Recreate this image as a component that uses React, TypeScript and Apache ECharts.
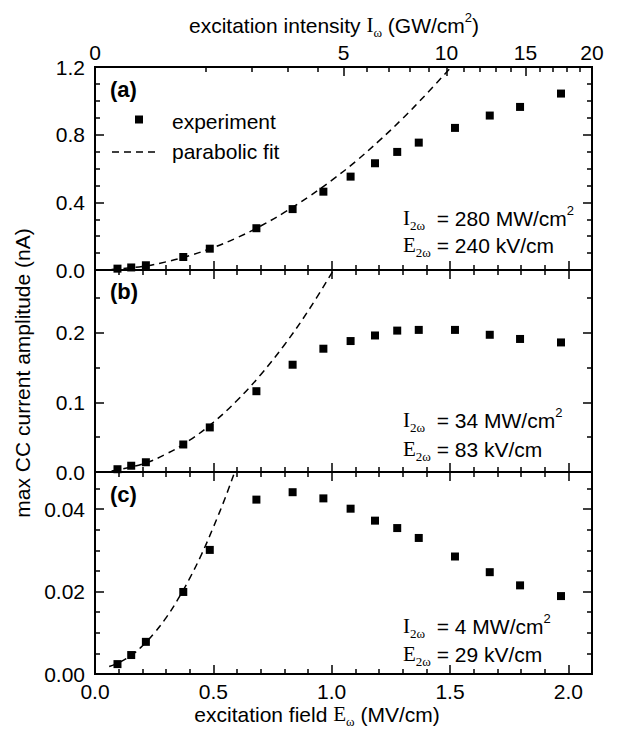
import React, { useEffect, useRef } from "react";
import * as echarts from "echarts";

// measured points: excitation field E_ω (MV/cm)
const fieldE = [0.095, 0.153, 0.215, 0.373, 0.485, 0.682, 0.835, 0.965, 1.08, 1.183, 1.277, 1.368, 1.521, 1.668, 1.796, 1.969];
// max CC current amplitude (nA) for panels (a), (b), (c)
const currentA = [0.008, 0.015, 0.028, 0.077, 0.126, 0.247, 0.36, 0.463, 0.552, 0.631, 0.698, 0.753, 0.84, 0.913, 0.964, 1.043];
const currentB = [0.004, 0.009, 0.014, 0.0395, 0.064, 0.116, 0.154, 0.177, 0.188, 0.196, 0.203, 0.204, 0.204, 0.197, 0.191, 0.186];
const currentC = [0.0024, 0.0046, 0.0078, 0.0199, 0.0301, 0.0423, 0.0441, 0.0426, 0.0401, 0.0372, 0.0354, 0.033, 0.0285, 0.0247, 0.0215, 0.0189];

// parabolic fit curves
const fitFieldA = [0.07, 0.2, 0.3, 0.4, 0.5, 0.6, 0.7, 0.8, 0.9, 1.0, 1.1, 1.2, 1.3, 1.4, 1.505];
const fitValueA = [0.003, 0.021, 0.048, 0.085, 0.133, 0.191, 0.26, 0.34, 0.43, 0.53, 0.64, 0.763, 0.896, 1.04, 1.2];
const fitFieldB = [0.07, 0.2, 0.3, 0.4, 0.5, 0.6, 0.7, 0.8, 0.9, 1.008];
const fitValueB = [0.0014, 0.0114, 0.0257, 0.0456, 0.0713, 0.1026, 0.1397, 0.1824, 0.2309, 0.29];
const fitFieldC = [0.06, 0.1, 0.15, 0.2, 0.25, 0.3, 0.35, 0.4, 0.45, 0.5, 0.55, 0.59];
const fitValueC = [0.0018, 0.0027, 0.0044, 0.0068, 0.0099, 0.0136, 0.0181, 0.0232, 0.029, 0.0356, 0.0427, 0.049];

// ticks
const fieldMajor = [0, 0.5, 1.0, 1.5, 2.0];
const fieldMinor = [0.1, 0.2, 0.3, 0.4, 0.6, 0.7, 0.8, 0.9, 1.1, 1.2, 1.3, 1.4, 1.6, 1.7, 1.8, 1.9];
const intensityLabels = [0, 5, 10, 15, 20];
const intensityMajor = [5, 10, 15];
const intensityMinor = [1, 2, 3, 4, 6, 7, 8, 9, 11, 12, 13, 14, 16, 17, 18, 19];
const yMajorA = [0, 0.4, 0.8, 1.2];
const yMinorA = [0.1, 0.2, 0.3, 0.5, 0.6, 0.7, 0.9, 1.0, 1.1];
const yMajorB = [0, 0.1, 0.2];
const yMinorB = [0.05, 0.15, 0.25];
const yMajorC = [0, 0.02, 0.04];
const yMinorC = [0.005, 0.01, 0.015, 0.025, 0.03, 0.035, 0.045];

const FIELD_MAX = 2.1;
const INTENSITY_AT_MAX = 20; // GW/cm² at E = 2.1 MV/cm (I ∝ E²)
const K = INTENSITY_AT_MAX / (FIELD_MAX * FIELD_MAX);

const SANS = "'Liberation Sans', Arial, sans-serif";
const SERIF = "'Liberation Serif', 'Times New Roman', serif";
const BLACK = "#000";

const intensityToField = (I: number) => Math.min(FIELD_MAX, Math.sqrt(I / K));

function axis(
  gridIndex: number,
  position: string,
  min: number,
  max: number,
  ticks: number[],
  len: number,
  labelValues?: number[],
  fmt?: (v: number) => string,
  margin: number = 7
) {
  return {
    type: "value",
    gridIndex,
    position,
    min,
    max,
    axisLine: { show: true, onZero: false, lineStyle: { color: BLACK, width: 2 } },
    axisTick: {
      show: true,
      inside: true,
      length: len,
      customValues: ticks,
      lineStyle: { color: BLACK, width: 1.5 },
    },
    minorTick: { show: false },
    axisLabel: labelValues
      ? {
          show: true,
          customValues: labelValues,
          formatter: fmt,
          color: BLACK,
          fontSize: 21,
          fontFamily: SANS,
          margin,
        }
      : { show: false },
    splitLine: { show: false },
  };
}

const MAJ = 9;
const MIN = 5;

const panels = [
  { yMax: 1.2, yMajor: yMajorA, yMinor: yMinorA, dec: 1, pts: currentA, fx: fitFieldA, fy: fitValueA },
  { yMax: 0.29, yMajor: yMajorB, yMinor: yMinorB, dec: 1, pts: currentB, fx: fitFieldB, fy: fitValueB },
  { yMax: 0.049, yMajor: yMajorC, yMinor: yMinorC, dec: 2, pts: currentC, fx: fitFieldC, fy: fitValueC },
];

const annotations = [
  { I: "  = 280 MW/cm", E: " = 240 kV/cm" },
  { I: "  = 34 MW/cm", E: " = 83 kV/cm" },
  { I: "  = 4 MW/cm", E: " = 29 kV/cm" },
];

function buildOption() {
  const gridTops = [67, 270, 472];
  const gridHeights = [203, 202, 202];
  const grid = gridTops.map((top, i) => ({
    left: 95,
    right: 40,
    top,
    height: gridHeights[i],
    outerBoundsMode: "none",
    containLabel: false,
  }));

  const fmtField = (v: number) => v.toFixed(1);
  const fmtIntensity = (v: number) => String(Math.round(K * v * v));

  const xAxis: any[] = [];
  const yAxis: any[] = [];
  panels.forEach((p, i) => {
    const isLast = i === panels.length - 1;
    xAxis.push(
      axis(i, "bottom", 0, FIELD_MAX, fieldMajor, MAJ, isLast ? fieldMajor : undefined, fmtField, 7)
    );
    xAxis.push(axis(i, "bottom", 0, FIELD_MAX, fieldMinor, MIN));
    if (i === 0) {
      xAxis.push(
        axis(
          i,
          "top",
          0,
          FIELD_MAX,
          intensityMajor.map(intensityToField),
          MAJ,
          intensityLabels.map(intensityToField),
          fmtIntensity,
          4
        )
      );
      xAxis.push(axis(i, "top", 0, FIELD_MAX, intensityMinor.map(intensityToField), MIN));
    } else {
      xAxis.push(axis(i, "top", 0, FIELD_MAX, fieldMajor, MAJ));
      xAxis.push(axis(i, "top", 0, FIELD_MAX, fieldMinor, MIN));
    }
    const fy = (v: number) => v.toFixed(p.dec);
    yAxis.push(axis(i, "left", 0, p.yMax, p.yMajor, MAJ, p.yMajor, fy, 10));
    yAxis.push(axis(i, "left", 0, p.yMax, p.yMinor, MIN));
    yAxis.push(axis(i, "right", 0, p.yMax, p.yMajor, MAJ));
    yAxis.push(axis(i, "right", 0, p.yMax, p.yMinor, MIN));
  });

  const series: any[] = [];
  panels.forEach((p, i) => {
    series.push({
      type: "line",
      name: "parabolic fit",
      xAxisIndex: i * 4,
      yAxisIndex: i * 4,
      data: p.fx.map((x, j) => [x, p.fy[j]]),
      showSymbol: false,
      symbol: "none",
      smooth: 0.4,
      clip: true,
      lineStyle: { color: BLACK, width: 1.5, type: [7, 5] },
      z: 2,
    });
    series.push({
      type: "scatter",
      name: "experiment",
      xAxisIndex: i * 4,
      yAxisIndex: i * 4,
      data: fieldE.map((x, j) => [x, p.pts[j]]),
      symbol: "rect",
      symbolSize: 8,
      itemStyle: { color: BLACK, opacity: 1 },
      z: 3,
    });
  });

  const richBase = {
    t: { fontFamily: SANS, fontSize: 21, lineHeight: 28, fill: BLACK },
    V: { fontFamily: SERIF, fontSize: 21, lineHeight: 28, fill: BLACK },
    s: { fontFamily: SERIF, fontSize: 13, lineHeight: 17, verticalAlign: "bottom", fill: BLACK },
    p: { fontFamily: SANS, fontSize: 13, lineHeight: 13, verticalAlign: "top", fill: BLACK },
  };

  const graphic: any[] = [];
  // axis titles
  graphic.push({
    type: "text",
    x: 334,
    y: 25,
    style: {
      text: "{t|excitation intensity }{V|I}{s|ω}{t| (GW/cm}{p|2}{t|)}",
      rich: richBase,
      align: "center",
      verticalAlign: "middle",
      fill: BLACK,
    },
  });
  graphic.push({
    type: "text",
    x: 317,
    y: 714,
    style: {
      text: "{t|excitation field }{V|E}{s|ω}{t| (MV/cm)}",
      rich: richBase,
      align: "center",
      verticalAlign: "middle",
      fill: BLACK,
    },
  });
  graphic.push({
    type: "text",
    x: 22,
    y: 373,
    rotation: Math.PI / 2,
    style: {
      text: "max CC current amplitude (nA)",
      fontFamily: SANS,
      fontSize: 21,
      fill: BLACK,
      align: "center",
      verticalAlign: "middle",
    },
  });
  // panel labels
  const labelY = [89, 291, 494];
  ["(a)", "(b)", "(c)"].forEach((t, i) => {
    graphic.push({
      type: "text",
      x: 110,
      y: labelY[i],
      style: {
        text: t,
        fontFamily: SANS,
        fontSize: 22,
        fontWeight: "bold",
        fill: BLACK,
        align: "left",
        verticalAlign: "middle",
      },
    });
  });
  // legend
  graphic.push({
    type: "rect",
    shape: { x: 135, y: 115.5, width: 8, height: 8 },
    style: { fill: BLACK },
  });
  graphic.push({
    type: "text",
    x: 172,
    y: 121,
    style: { text: "experiment", fontFamily: SANS, fontSize: 21, fill: BLACK, align: "left", verticalAlign: "middle" },
  });
  graphic.push({
    type: "line",
    shape: { x1: 112, y1: 152, x2: 158, y2: 152 },
    style: { stroke: BLACK, lineWidth: 1.5, lineDash: [7, 5] },
  });
  graphic.push({
    type: "text",
    x: 172,
    y: 151,
    style: { text: "parabolic fit", fontFamily: SANS, fontSize: 21, fill: BLACK, align: "left", verticalAlign: "middle" },
  });
  // annotations
  const annY = [
    [218, 245],
    [420, 449],
    [626, 654],
  ];
  annotations.forEach((a, i) => {
    graphic.push({
      type: "text",
      x: 403,
      y: annY[i][0],
      style: {
        text: `{V|I}{s|2ω}{t|${a.I}}{p|2}`,
        rich: richBase,
        align: "left",
        verticalAlign: "middle",
        fill: BLACK,
      },
    });
    graphic.push({
      type: "text",
      x: 403,
      y: annY[i][1],
      style: {
        text: `{V|E}{s|2ω}{t|${a.E}}`,
        rich: richBase,
        align: "left",
        verticalAlign: "middle",
        fill: BLACK,
      },
    });
  });

  return {
    animation: false,
    backgroundColor: "#fff",
    grid,
    xAxis,
    yAxis,
    series,
    graphic,
  };
}

export default function App() {
  const ref = useRef<HTMLDivElement>(null);
  useEffect(() => {
    if (!ref.current) return;
    const chart = echarts.init(ref.current, null, { renderer: "svg" });
    chart.setOption(buildOption() as any);
    return () => chart.dispose();
  }, []);
  return (
    <div
      ref={ref}
      style={{ position: "absolute", left: 0, top: 0, width: 632, height: 731 }}
    />
  );
}
